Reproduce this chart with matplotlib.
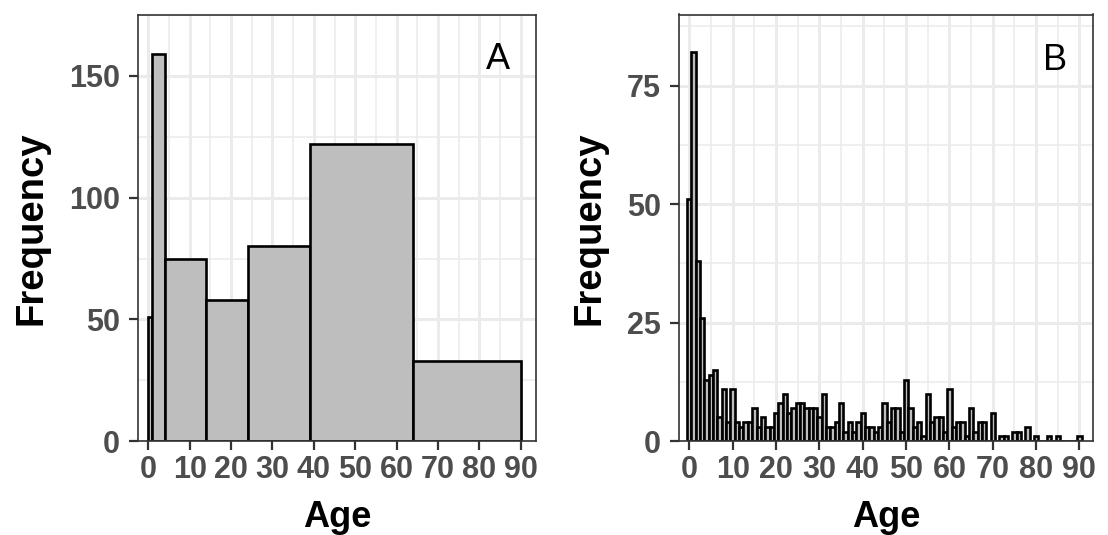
import matplotlib
matplotlib.use("Agg")
import matplotlib.pyplot as plt
from matplotlib.ticker import MultipleLocator, FixedLocator
import numpy as np

# ---------------- data ----------------
# Panel A: grouped age classes (bin edges and counts)
a_edges = [0, 1, 4, 14, 24, 39, 64, 90]
a_counts = [51, 159, 75, 58, 80, 122, 33]

# Panel B: single-year ages 0..90
b_ages = list(range(0, 91))
b_counts = [51, 82, 38, 26, 13, 14, 15, 5, 11, 4,
            11, 4, 3, 4, 4, 7, 3, 5, 3, 3,
            6, 8, 10, 6, 7, 8, 8, 7, 7, 7,
            5, 10, 3, 3, 4, 8, 2, 4, 2, 4,
            6, 3, 3, 2, 3, 8, 4, 7, 7, 2,
            13, 7, 3, 4, 1, 10, 4, 5, 5, 2,
            11, 3, 4, 4, 1, 7, 2, 4, 4, 0,
            6, 0, 1, 1, 0, 2, 2, 0, 3, 0,
            1, 0, 0, 1, 0, 1, 0, 0, 0, 0,
            1]

x_ticks = [0, 10, 20, 30, 40, 50, 60, 70, 80, 90]
a_yticks = [0, 50, 100, 150]
b_yticks = [0, 25, 50, 75]
panel_labels = ["A", "B"]
x_label = "Age"
y_label = "Frequency"

# ---------------- style ----------------
plt.rcParams['font.family'] = ['Liberation Sans', 'DejaVu Sans']
FILL = '#BEBEBE'
GRID = '#EBEBEB'
AXCOL = '#333333'
TICKLAB = '#4D4D4D'

W, H = 1108, 535
fig = plt.figure(figsize=(W / 100, H / 100), dpi=100)

def frac(l, r, t, b):
    return [l / W, 1 - b / H, (r - l) / W, (b - t) / H]

boxA = (138.3, 536.0, 15.0, 441.2)
boxB = (679.0, 1093.3, 14.5, 441.2)
axA = fig.add_axes(frac(*boxA))
axB = fig.add_axes(frac(*boxB))

# Panel A bars
axA.bar(a_edges[:-1], a_counts, width=np.diff(a_edges), align='edge',
        color=FILL, edgecolor='black', linewidth=1.9, zorder=3)
axA.set_xlim(-2.42, 93.7)
axA.set_ylim(0, 175)
axA.yaxis.set_major_locator(FixedLocator(a_yticks))
axA.yaxis.set_minor_locator(MultipleLocator(25))

# Panel B bars
axB.bar(b_ages, b_counts, width=1.0, align='center',
        color=FILL, edgecolor='black', linewidth=1.9, zorder=3)
axB.set_xlim(-2.38, 93.2)
axB.set_ylim(0, 90)
axB.yaxis.set_major_locator(FixedLocator(b_yticks))
axB.yaxis.set_minor_locator(MultipleLocator(12.5))

# label positions in pixels (baseline)
xlabel_base_y = 527.0
ylabel_base_x = {0: 42.0, 1: 600.0}

for i, (ax, box, lab, lx, ly) in enumerate(((axA, boxA, panel_labels[0], 84.5, 152.8),
                                              (axB, boxB, panel_labels[1], 84.4, 78.2))):
    l, r, t, b = box
    ax.xaxis.set_major_locator(FixedLocator(x_ticks))
    ax.xaxis.set_minor_locator(MultipleLocator(5))
    ax.set_axisbelow(True)
    ax.grid(which='major', color=GRID, linewidth=2.1, zorder=0)
    ax.grid(which='minor', color=GRID, linewidth=1.1, zorder=0)
    for s in ax.spines.values():
        s.set_color(AXCOL)
        s.set_linewidth(1.2)
        s.set_zorder(4)
    ax.tick_params(which='major', length=6.5, width=1.6, color=AXCOL,
                   labelsize=22, labelcolor=TICKLAB)
    ax.tick_params(axis='x', which='major', pad=3.4)
    ax.tick_params(axis='y', which='major', pad=6.5)
    ax.tick_params(which='minor', length=0)
    for tl in ax.get_xticklabels() + ax.get_yticklabels():
        tl.set_fontweight('bold')
    ax.set_xlabel(x_label, fontsize=26, fontweight='bold', color='black')
    ax.set_ylabel(y_label, fontsize=27.5, fontweight='bold', color='black')
    ax.xaxis.label.set_va('baseline')
    ax.yaxis.label.set_va('baseline')
    ax.xaxis.set_label_coords(0.5, (b - xlabel_base_y) / (b - t))
    ax.yaxis.set_label_coords((ylabel_base_x[i] - l) / (r - l), 0.5)
    ax.text(lx, ly, lab, fontsize=26, color='black', ha='center', va='baseline', zorder=5)

fig.savefig('out.png', dpi=100)
